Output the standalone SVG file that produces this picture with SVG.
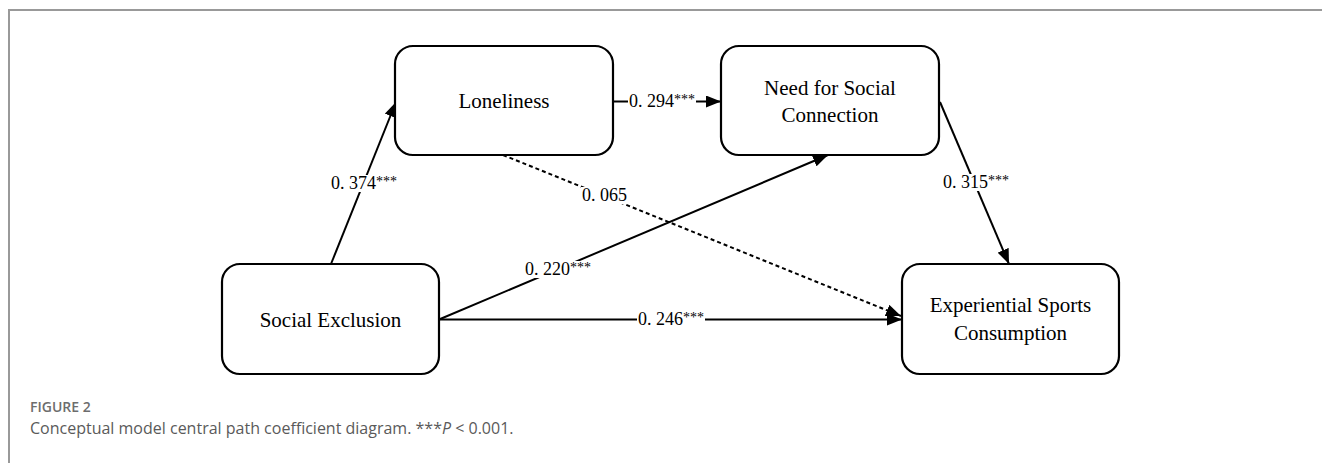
<svg xmlns="http://www.w3.org/2000/svg" width="1322" height="463" viewBox="0 0 1322 463">
<style>
.box{fill:#fff;stroke:#000;stroke-width:2.2}
.nt{font-family:"Liberation Serif","Times New Roman",serif;font-size:21px;fill:#000;text-anchor:middle}
.lbl{font-family:"Liberation Serif","Times New Roman",serif;font-size:18px;fill:#000}
.st{font-size:14px}
.edge{fill:none;stroke:#000;stroke-width:2}
.dash{stroke-dasharray:4 3}
.mask{fill:#fff}
.cap1{font-family:"Open Sans","Noto Sans",sans-serif;font-size:14px;font-weight:600;fill:#6d6d6d}
.cap2{font-family:"Open Sans","Noto Sans",sans-serif;font-size:16px;fill:#5a5a5a}
</style>
<defs>
<marker id="arr" markerUnits="userSpaceOnUse" markerWidth="16" markerHeight="12" refX="15" refY="6" orient="auto">
<path d="M0,0 L15,6 L0,12 z" fill="#000" stroke="none"/>
</marker>
</defs>
<rect x="0" y="0" width="1322" height="463" fill="#fff"/>
<path d="M9,463 V10 H1322" fill="none" stroke="#999" stroke-width="2"/>
<g id="connectors">
<path class="edge" d="M331,264 L396,102" marker-end="url(#arr)"/>
<path class="edge" d="M613,101.5 L721,101.5" marker-end="url(#arr)"/>
<path class="edge" d="M940,102 L1009,264" marker-end="url(#arr)"/>
<path class="edge" d="M439,319.5 L828,155" marker-end="url(#arr)"/>
<path class="edge" d="M439,319.5 L902,319.5" marker-end="url(#arr)"/>
<path class="edge dash" d="M503,155 L901,316" marker-end="url(#arr)"/>
<rect class="mask" x="330" y="175" width="68" height="17"/>
<rect class="mask" x="628" y="93" width="68" height="17"/>
<rect class="mask" x="581" y="187" width="47" height="17"/>
<rect class="mask" x="524" y="261" width="68" height="17"/>
<rect class="mask" x="637" y="311" width="68" height="17"/>
<rect class="mask" x="942" y="174" width="68" height="17"/>
<text class="lbl" x="331" y="189">0. 374<tspan class="st" dy="-3">***</tspan></text>
<text class="lbl" x="629" y="107">0. 294<tspan class="st" dy="-3">***</tspan></text>
<text class="lbl" x="582" y="201">0. 065</text>
<text class="lbl" x="525" y="275">0. 220<tspan class="st" dy="-3">***</tspan></text>
<text class="lbl" x="638" y="325">0. 246<tspan class="st" dy="-3">***</tspan></text>
<text class="lbl" x="943" y="188">0. 315<tspan class="st" dy="-3">***</tspan></text>
</g>
<g id="loneliness">
<rect class="box" x="395" y="46" width="218" height="109" rx="18"/>
<text class="nt" x="504" y="108">Loneliness</text>
</g>
<g id="need">
<rect class="box" x="721" y="46" width="218" height="109" rx="18"/>
<text class="nt" x="830" y="95">Need for Social</text>
<text class="nt" x="830" y="122">Connection</text>
</g>
<g id="social-exclusion">
<rect class="box" x="222" y="264" width="217" height="110" rx="18"/>
<text class="nt" x="330.5" y="327">Social Exclusion</text>
</g>
<g id="experiential">
<rect class="box" x="902" y="264" width="217" height="110" rx="18"/>
<text class="nt" x="1010.5" y="312">Experiential Sports</text>
<text class="nt" x="1010.5" y="340">Consumption</text>
</g>
<g id="caption">
<text class="cap1" x="30" y="412">FIGURE 2</text>
<text class="cap2" x="30" y="434">Conceptual model central path coefficient diagram. ***<tspan font-style="italic">P</tspan> &lt; 0.001.</text>
</g>
</svg>
